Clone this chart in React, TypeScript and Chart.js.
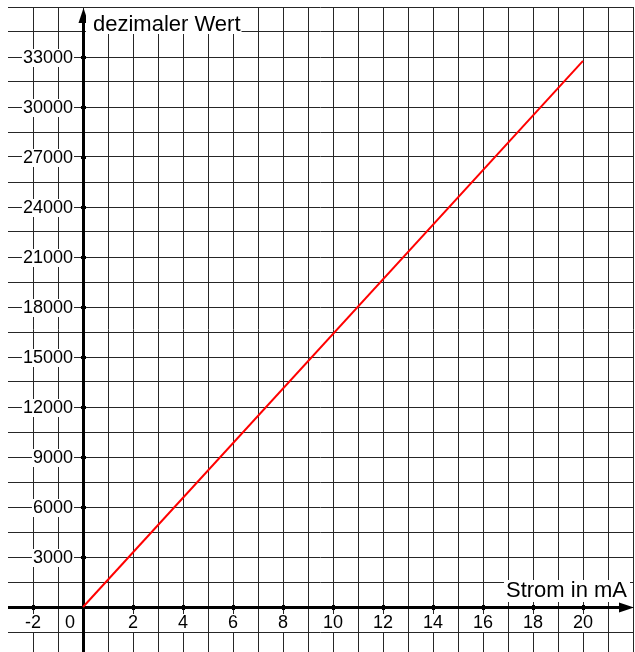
import React, { useEffect, useRef } from "react";
import { Chart, registerables } from "chart.js";

Chart.register(...registerables);

// ---- data ----
const currentMA: number[] = [0, 20];
const decimalValue: number[] = [0, 32767];
const xTickLabels: number[] = [-2, 0, 2, 4, 6, 8, 10, 12, 14, 16, 18, 20];
const yTickLabels: number[] = [3000, 6000, 9000, 12000, 15000, 18000, 21000, 24000, 27000, 30000, 33000];
const xGridValues: number[] = [-3, -2, -1, 0, 1, 2, 3, 4, 5, 6, 7, 8, 9, 10, 11, 12, 13, 14, 15, 16, 17, 18, 19, 20, 21, 22];
const yGridValues: number[] = [-1500, 0, 1500, 3000, 4500, 6000, 7500, 9000, 10500, 12000, 13500, 15000, 16500, 18000, 19500, 21000, 22500, 24000, 25500, 27000, 28500, 30000, 31500, 33000, 34500, 36000];
const xTitle = "Strom in mA";
const yTitle = "dezimaler Wert";

const FONT = '"Liberation Sans", Arial, sans-serif';
const GRID = "#262626";

const axesPlugin = {
  id: "axesPlugin",
  beforeDatasetsDraw(chart: any) {
    const ctx = chart.ctx as CanvasRenderingContext2D;
    const xs = chart.scales.x;
    const ys = chart.scales.y;
    const area = chart.chartArea;
    const x0 = Math.round(xs.getPixelForValue(0));
    const y0 = Math.round(ys.getPixelForValue(0));
    ctx.save();

    // axis lines
    ctx.fillStyle = "#000";
    ctx.fillRect(x0 - 1, area.top + 12, 3, area.bottom - area.top);
    ctx.fillRect(area.left, y0 - 1, area.right - area.left - 13, 3);
    // arrows
    ctx.beginPath();
    ctx.moveTo(x0 + 0.5, area.top + 1);
    ctx.lineTo(x0 - 4.5, area.top + 16);
    ctx.lineTo(x0 + 5.5, area.top + 16);
    ctx.closePath();
    ctx.fill();
    ctx.beginPath();
    ctx.moveTo(area.right + 1, y0 + 0.5);
    ctx.lineTo(area.right - 14, y0 - 4.5);
    ctx.lineTo(area.right - 14, y0 + 5.5);
    ctx.closePath();
    ctx.fill();

    // tick marks
    for (const v of xTickLabels) {
      if (v === 0) continue;
      const px = Math.round(xs.getPixelForValue(v));
      ctx.fillRect(px - 1, y0 - 2, 3, 5);
    }
    for (const v of yTickLabels) {
      const py = Math.round(ys.getPixelForValue(v));
      ctx.fillRect(x0 - 2, py - 1, 5, 3);
    }

    // tick labels
    ctx.font = `18px ${FONT}`;
    ctx.textBaseline = "middle";
    for (const v of yTickLabels) {
      const py = ys.getPixelForValue(v);
      const t = String(v);
      const w = ctx.measureText(t).width;
      const rx = x0 - 10;
      ctx.fillStyle = "#fff";
      ctx.fillRect(rx - w - 1, py - 8, w + 2, 18);
      ctx.fillStyle = "#000";
      ctx.textAlign = "right";
      ctx.fillText(t, rx, py + 1.5);
    }
    for (const v of xTickLabels) {
      let px = xs.getPixelForValue(v);
      if (v === 0) px -= 13;
      const t = String(v);
      const w = ctx.measureText(t).width;
      const py = y0 + 16;
      ctx.fillStyle = "#fff";
      ctx.fillRect(px - w / 2 - 1, py - 9, w + 2, 18);
      ctx.fillStyle = "#000";
      ctx.textAlign = "center";
      ctx.fillText(t, px, py + 0.5);
    }

    // axis titles
    ctx.font = `22px ${FONT}`;
    ctx.textBaseline = "alphabetic";
    const tw = ctx.measureText(yTitle).width;
    ctx.fillStyle = "#fff";
    ctx.fillRect(x0 + 3, area.top + 1, tw + 8, 26);
    ctx.fillStyle = "#000";
    ctx.textAlign = "left";
    ctx.fillText(yTitle, x0 + 10, area.top + 24);

    const xw = ctx.measureText(xTitle).width;
    ctx.fillStyle = "#fff";
    ctx.fillRect(area.right - 6 - xw - 2, y0 - 27, xw + 5, 22);
    ctx.fillStyle = "#000";
    ctx.textAlign = "right";
    ctx.fillText(xTitle, area.right - 6, y0 - 10);

    ctx.restore();
  },
};

export default function App() {
  const canvasRef = useRef<HTMLCanvasElement | null>(null);

  useEffect(() => {
    if (!canvasRef.current) return;
    const chart = new Chart(canvasRef.current, {
      type: "scatter",
      data: {
        datasets: [
          {
            data: currentMA.map((x, i) => ({ x, y: decimalValue[i] })),
            showLine: true,
            borderColor: "#ff0000",
            borderWidth: 2,
            pointRadius: 0,
            fill: false,
          },
        ],
      },
      options: {
        animation: false,
        responsive: false,
        devicePixelRatio: 1,
        layout: { padding: { left: 8, right: 2, top: 7, bottom: 0 } },
        plugins: { legend: { display: false }, tooltip: { enabled: false } },
        scales: {
          x: {
            type: "linear",
            min: -3,
            max: 22,
            afterBuildTicks: (scale: any) => {
              scale.ticks = xGridValues.map((v) => ({ value: v }));
            },
            ticks: { display: false },
            grid: {
              drawTicks: false,
              color: (c: any) => (c.tick && c.tick.value === -3 ? "rgba(0,0,0,0)" : GRID),
              lineWidth: 1,
            },
            border: { display: false },
          },
          y: {
            type: "linear",
            min: -2700,
            max: 36000,
            afterBuildTicks: (scale: any) => {
              scale.ticks = yGridValues.map((v) => ({ value: v }));
            },
            ticks: { display: false },
            grid: { drawTicks: false, color: GRID, lineWidth: 1 },
            border: { display: false },
          },
        },
      },
      plugins: [axesPlugin],
    });
    return () => chart.destroy();
  }, []);

  return (
    <div style={{ position: "absolute", left: 0, top: 0, width: 635, height: 652, background: "#fff" }}>
      <canvas ref={canvasRef} width={635} height={652} style={{ display: "block", width: 635, height: 652 }} />
    </div>
  );
}
